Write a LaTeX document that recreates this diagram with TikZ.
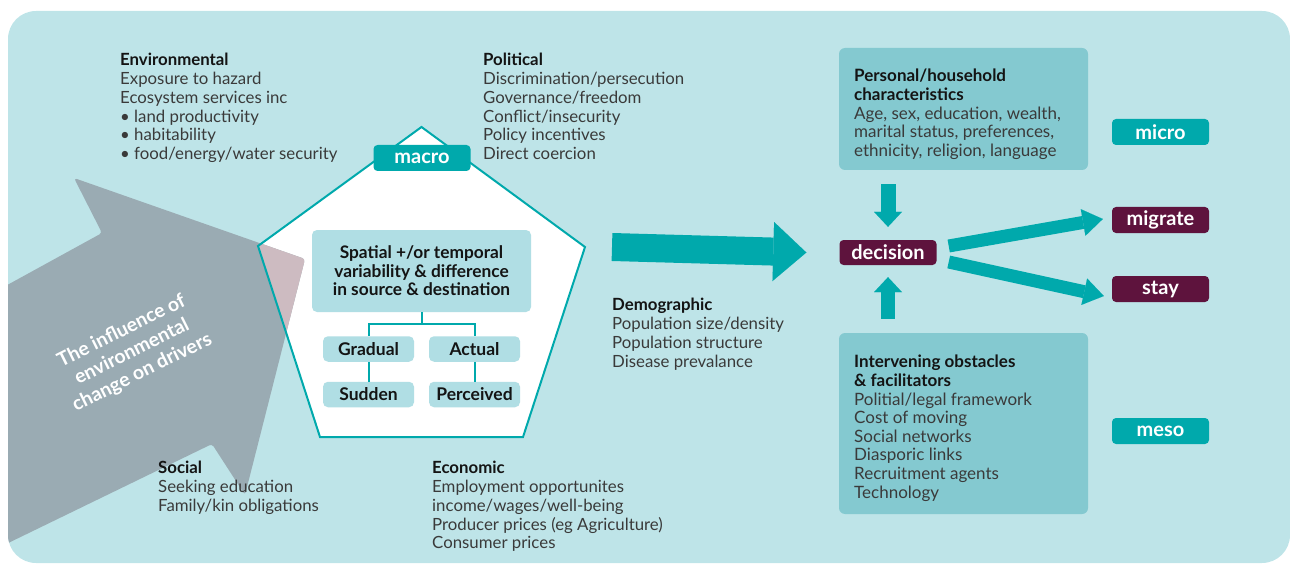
\documentclass[tikz,border=0pt]{standalone}
\usepackage{fontspec}
\setmainfont{Lato}
\usetikzlibrary{arrows.meta}
\definecolor{bgc}{HTML}{BEE4E8}
\definecolor{teal1}{HTML}{00A9AC}
\definecolor{maroon1}{HTML}{5E133D}
\definecolor{lboxc}{HTML}{B0DEE4}
\definecolor{dboxc}{HTML}{84C9D0}
\definecolor{greyar}{HTML}{9AABB3}
\definecolor{pinkar}{HTML}{CDBBC1}
\definecolor{txt}{HTML}{3A3A3A}
\definecolor{hdc}{HTML}{141414}
\newcommand\hdg[1]{{\color{hdc}\bfseries #1}}
\begin{document}
\begin{tikzpicture}[x=1pt,y=-1pt,
  body/.style={anchor=north west, inner sep=0pt, align=left, text=txt,
    font=\fontsize{16.8}{18.8}\selectfont},
  tagbox/.style={rounded corners=4pt, fill=teal1, text=white, inner sep=0pt,
    font=\bfseries\fontsize{20}{22}\selectfont, minimum width=97pt, minimum height=26pt},
  mtag/.style={tagbox, fill=maroon1},
  smallbox/.style={rounded corners=5pt, fill=lboxc, text=hdc, inner sep=0pt,
    font=\bfseries\fontsize{17.5}{19}\selectfont, minimum width=91pt, minimum height=25.5pt},
  bigbox/.style={rounded corners=6pt, fill=dboxc, text=txt, inner sep=0pt,
    minimum width=249pt, align=left, text width=219pt,
    font=\fontsize{17}{18.6}\selectfont},
  tree/.style={draw=teal1, line width=2pt},
  blockar/.style={draw=teal1, line width=#1},
]
\useasboundingbox (0,0) rectangle (1290,564);
% background
\fill[bgc, rounded corners=28pt] (8,11) rectangle (1290,563);
% pentagon
\coordinate (pT) at (421.5,127);
\coordinate (pR) at (585,247);
\coordinate (pBR) at (523,437);
\coordinate (pBL) at (320,437);
\coordinate (pL) at (258,246);
\fill[white] (pT) -- (pR) -- (pBR) -- (pBL) -- (pL) -- cycle;
% grey arrow
\begin{scope}
  \clip[rounded corners=28pt] (8,11) rectangle (1290,563);
  \fill[greyar, rounded corners=3pt] (0,289) -- (102,233) -- (74,178) -- (305,259) -- (245,495) -- (212,444) -- (0,547) -- cycle;
\end{scope}
\begin{scope}
  \clip (pT) -- (pR) -- (pBR) -- (pBL) -- (pL) -- cycle;
  \fill[pinkar, rounded corners=3pt] (0,289) -- (102,233) -- (74,178) -- (305,259) -- (245,495) -- (212,444) -- (0,547) -- cycle;
\end{scope}
\draw[teal1, line width=2pt, line join=miter] (pT) -- (pR) -- (pBR) -- (pBL) -- (pL) -- cycle;
\node[text=white, rotate=26.5, align=center, inner sep=0pt, font=\bfseries\fontsize{19.5}{23}\selectfont] (infl) at (132,352)
  {The influence of\\environmental\\change on drivers};
% pentagon content
\node[tagbox] (macro) at (422,158) {macro};
\node[smallbox, minimum width=219pt, minimum height=82pt, align=center, font=\bfseries\fontsize{17.3}{18.4}\selectfont] (spatial) at (421.5,271)
  {Spatial +/or temporal\\variability \& difference\\in source \& destination};
\node[smallbox] (gradual) at (368.5,349) {Gradual};
\node[smallbox] (actual) at (474.5,349) {Actual};
\node[smallbox] (sudden) at (368.5,394.5) {Sudden};
\node[smallbox] (perceived) at (474.5,394.5) {Perceived};
\draw[tree] (spatial.south) -- ++(0,12) coordinate (junc);
\draw[tree] (junc) -| (gradual.north);
\draw[tree] (junc) -| (actual.north);
\draw[tree] (gradual) -- (sudden);
\draw[tree] (actual) -- (perceived);
% text blocks
\node[body] (env) at (120,53) {\hdg{Environmental}\\Exposure to hazard\\Ecosystem services inc\\• land productivity\\• habitability\\• food/energy/water security};
\node[body] (pol) at (483,53) {\hdg{Political}\\Discrimination/persecution\\Governance/freedom\\Conflict/insecurity\\Policy incentives\\Direct coercion};
\node[body] (demo) at (612,298) {\hdg{Demographic}\\Population size/density\\Population structure\\Disease prevalance};
\node[body] (soc) at (158,461) {\hdg{Social}\\Seeking education\\Family/kin obligations};
\node[body] (eco) at (432,461) {\hdg{Economic}\\Employment opportunites\\income/wages/well-being\\Producer prices (eg Agriculture)\\Consumer prices};
% right part
\node[bigbox, minimum height=122pt] (personal) at (963.5,109) {};
\node[body, font=\fontsize{17}{18.6}\selectfont] (personaltxt) at (854,69)
  {\hdg{Personal/household}\\\hdg{characteristics}\\Age, sex, education, wealth,\\marital status, preferences,\\ethnicity, religion, language};
\node[bigbox, minimum height=181pt] (interv) at (963.5,423.5) {};
\node[body, font=\fontsize{17}{18.6}\selectfont] (intervtxt) at (854,355)
  {\hdg{Intervening obstacles}\\\hdg{\& facilitators}\\Politial/legal framework\\Cost of moving\\Social networks\\Diasporic links\\Recruitment agents\\Technology};
\node[mtag, minimum height=25pt] (decision) at (888,252.5) {decision};
\node[tagbox] (micro) at (1160.5,132) {micro};
\node[mtag] (migrate) at (1160.5,220) {migrate};
\node[mtag] (stay) at (1160.5,289) {stay};
\node[tagbox] (meso) at (1160.5,431) {meso};
% arrows
\draw[blockar=28pt, -{Triangle[width=59pt,length=33pt,line width=0.01pt]}]
  ([xshift=27pt]pR) -- ([xshift=-33pt]decision.west);
\draw[blockar=15pt, -{Triangle[width=28pt,length=15pt,line width=0.01pt]}, shorten <=14pt, shorten >=13pt]
  (decision.north |- personal.south) -- (decision.north);
\draw[blockar=14pt, -{Triangle[width=28pt,length=15pt,line width=0.01pt]}, shorten <=14pt, shorten >=12pt]
  (decision.south |- interv.north) -- (decision.south);
\draw[blockar=13pt, -{Triangle[width=27pt,length=20pt,line width=0.01pt]}]
  ([shift={(12,-6.5)}]decision.east) -- ([shift={(-9,-1)}]migrate.west);
\draw[blockar=13pt, -{Triangle[width=27pt,length=20pt,line width=0.01pt]}]
  ([shift={(12,9.5)}]decision.east) -- ([shift={(-8,7)}]stay.west);
\end{tikzpicture}
\end{document}
